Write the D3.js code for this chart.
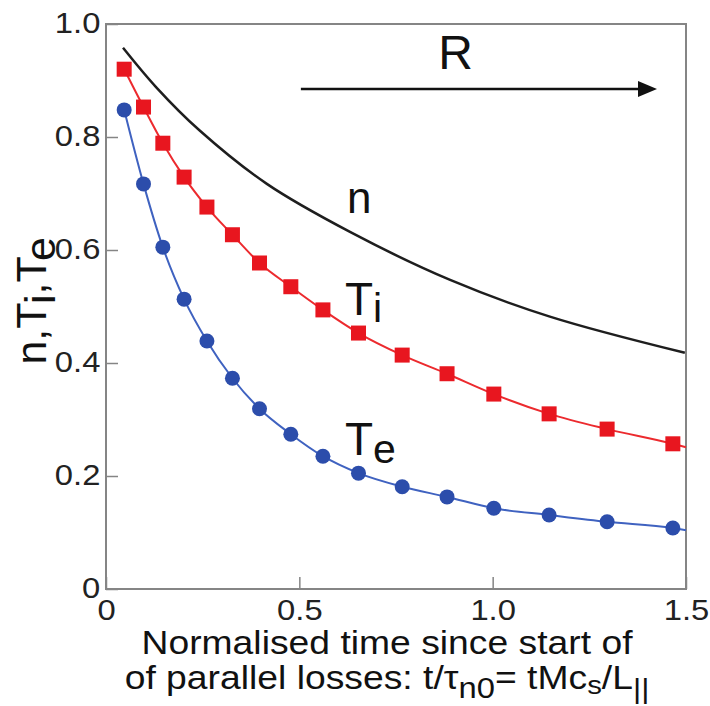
<!DOCTYPE html>
<html>
<head>
<meta charset="utf-8">
<style>
    body { margin: 0; background: white; }
    svg { display: block; font-family: 'Liberation Sans', Arial, sans-serif; }
</style>
</head>
<body>
<svg width="710" height="706"></svg>

<script src="https://d3js.org/d3.v7.min.js"></script>
<script>
    // values
    let time = [0.047, 0.097, 0.147, 0.202, 0.261, 0.327, 0.397, 0.478, 0.561, 0.653, 0.766, 0.882, 1.003, 1.146, 1.296, 1.466]
    let ti = [0.920, 0.853, 0.789, 0.729, 0.676, 0.627, 0.577, 0.535, 0.494, 0.453, 0.414, 0.381, 0.345, 0.310, 0.283, 0.257]
    let te = [0.848, 0.717, 0.605, 0.513, 0.439, 0.373, 0.319, 0.274, 0.235, 0.205, 0.181, 0.163, 0.143, 0.131, 0.119, 0.108]
    // lines run on to the frame edge
    let tiEnd = [1.5, 0.251]
    let teEnd = [1.5, 0.104]

    let nTime = [0.044, 0.130, 0.243, 0.416, 0.631, 0.890, 1.148, 1.497]
    let nVal = [0.958, 0.888, 0.811, 0.717, 0.632, 0.547, 0.482, 0.418]

    let xTicks = [0, 0.5, 1.0, 1.5]
    let xTickLabels = ["0", "0.5", "1.0", "1.5"]
    let yTicks = [0, 0.2, 0.4, 0.6, 0.8, 1.0]
    let yTickLabels = ["0", "0.2", "0.4", "0.6", "0.8", "1.0"]

    let svg = d3.select("svg")

    let margin = { left: 106, right: 24, top: 24, bottom: 117 }
    let width = 710
    let height = 706

    let x = d3.scaleLinear()
        .domain([0, 1.5])
        .range([margin.left, width - margin.right])

    let y = d3.scaleLinear()
        .domain([0, 1])
        .range([height - margin.bottom, margin.top])

    let grey = "#858585"
    let stretch = "scale(1.13,1)"

    // axes, ticks pointing inwards
    let xAxis = svg.append("g")
        .attr("transform", `translate(0,${y(0)})`)
        .call(d3.axisBottom(x)
            .tickValues(xTicks)
            .tickFormat((d, i) => xTickLabels[i])
            .tickSize(-12)
            .tickPadding(10))
    xAxis.select(".domain").remove()

    let yAxis = svg.append("g")
        .attr("transform", `translate(${x(0)},0)`)
        .call(d3.axisLeft(y)
            .tickValues(yTicks)
            .tickFormat((d, i) => yTickLabels[i])
            .tickSize(-12)
            .tickPadding(5))
    yAxis.select(".domain").remove()

    svg.selectAll(".tick line")
        .attr("stroke", grey)
        .attr("stroke-width", 1.5)
    svg.selectAll(".tick text")
        .attr("font-size", 29)
        .attr("font-family", "'Liberation Sans', Arial, sans-serif")
        .attr("fill", "#222")
        .attr("transform", stretch)
    yAxis.selectAll(".tick text").attr("dy", "0.3em")

    // frame
    svg.append("rect")
        .attr("x", x(0))
        .attr("y", y(1))
        .attr("width", x(1.5) - x(0))
        .attr("height", y(0) - y(1))
        .attr("fill", "none")
        .attr("stroke", grey)
        .attr("stroke-width", 2)

    let line = d3.line()
        .x(d => x(d[0]))
        .y(d => y(d[1]))
        .curve(d3.curveMonotoneX)

    // n, smooth curve through the read points
    svg.append("path")
        .datum(nTime.map((t, i) => [t, nVal[i]]))
        .attr("d", d3.line()
            .x(d => x(d[0]))
            .y(d => y(d[1]))
            .curve(d3.curveCatmullRom.alpha(0.5)))
        .attr("fill", "none")
        .attr("stroke", "#1e1e1e")
        .attr("stroke-width", 2.5)

    let tiPts = time.map((t, i) => [t, ti[i]])
    let tePts = time.map((t, i) => [t, te[i]])

    svg.append("path")
        .datum(tiPts.concat([tiEnd]))
        .attr("d", line)
        .attr("fill", "none")
        .attr("stroke", "#ec2a2e")
        .attr("stroke-width", 2)

    svg.append("path")
        .datum(tePts.concat([teEnd]))
        .attr("d", line)
        .attr("fill", "none")
        .attr("stroke", "#3f62c0")
        .attr("stroke-width", 2)

    let sq = 15
    svg.selectAll(".ti")
        .data(tiPts)
        .join("rect")
        .attr("class", "ti")
        .attr("x", d => x(d[0]) - sq / 2)
        .attr("y", d => y(d[1]) - sq / 2)
        .attr("width", sq)
        .attr("height", sq)
        .attr("fill", "#e8161f")

    svg.selectAll(".te")
        .data(tePts)
        .join("circle")
        .attr("class", "te")
        .attr("cx", d => x(d[0]))
        .attr("cy", d => y(d[1]))
        .attr("r", 7.5)
        .attr("fill", "#2c4dab")

    // curve labels
    svg.append("text")
        .attr("x", x(0.623))
        .attr("y", y(0.665))
        .attr("font-size", 44)
        .attr("fill", "#111")
        .text("n")

    let tiLab = svg.append("text")
        .attr("x", x(0.618))
        .attr("y", y(0.485))
        .attr("font-size", 46)
        .attr("fill", "#111")
        .text("T")
    tiLab.append("tspan").attr("dy", 7).attr("font-size", 41).text("i")

    let teLab = svg.append("text")
        .attr("x", x(0.618))
        .attr("y", y(0.237))
        .attr("font-size", 46)
        .attr("fill", "#111")
        .text("T")
    teLab.append("tspan").attr("dy", 8).attr("font-size", 41).text("e")

    // R arrow
    let ay = y(0.885)
    let ax0 = x(0.504)
    let ax1 = x(1.425)
    svg.append("line")
        .attr("x1", ax0)
        .attr("x2", ax1 - 14)
        .attr("y1", ay)
        .attr("y2", ay)
        .attr("stroke", "#111")
        .attr("stroke-width", 2.5)
    svg.append("path")
        .attr("d", `M${ax1},${ay} L${ax1 - 19},${ay - 8} L${ax1 - 19},${ay + 8} Z`)
        .attr("fill", "#111")

    svg.append("text")
        .attr("x", x(0.859))
        .attr("y", y(0.92))
        .attr("font-size", 48)
        .attr("fill", "#111")
        .text("R")

    // y title
    let yt = svg.append("text")
        .attr("transform", `translate(46,${y(0.51)}) rotate(-90)`)
        .attr("text-anchor", "middle")
        .attr("font-size", 43)
        .attr("fill", "#111")
    yt.append("tspan").text("n,T")
    yt.append("tspan").attr("dy", 9).text("i")
    yt.append("tspan").attr("dy", -9).text(",T")
    yt.append("tspan").attr("dy", 9).text("e")

    // x title, two lines
    let xt = svg.append("g")
        .attr("transform", `translate(387,0) ${stretch}`)
        .attr("font-size", 33)
        .attr("fill", "#111")
        .attr("text-anchor", "middle")

    xt.append("text")
        .attr("y", 654)
        .text("Normalised time since start of")

    let l2 = xt.append("text").attr("y", 689)
    l2.append("tspan").text("of parallel losses: t/τ")
    l2.append("tspan").attr("dy", 9).attr("font-size", 29).text("n0")
    l2.append("tspan").attr("dy", -9).text("= tMc")
    l2.append("tspan").attr("dy", 5).attr("font-size", 26).text("s")
    l2.append("tspan").attr("dy", -5).text("/L")
    l2.append("tspan").attr("dy", 9).attr("font-size", 28).text("||")
</script>
</body>
</html>
